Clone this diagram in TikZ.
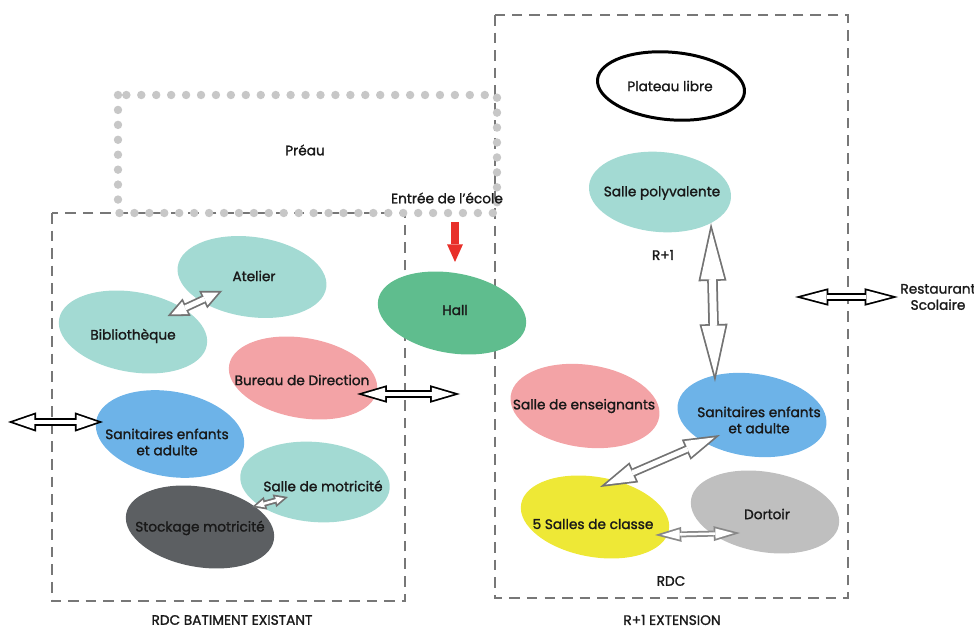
\documentclass[tikz,border=0pt]{standalone}
\usepackage{fontspec}
\setmainfont{Poppins}[FakeBold=1.4]
\usetikzlibrary{calc,shapes.geometric,arrows.meta}

\definecolor{sage}{HTML}{A3DAD3}
\definecolor{hallgreen}{HTML}{5FBD8E}
\definecolor{rose}{HTML}{F3A3A6}
\definecolor{sky}{HTML}{6DB3E8}
\definecolor{slate}{HTML}{5C5F62}
\definecolor{lemon}{HTML}{EEE836}
\definecolor{ash}{HTML}{BFBFBF}
\definecolor{wallgrey}{HTML}{777777}
\definecolor{arrowgrey}{HTML}{737373}
\definecolor{signred}{HTML}{E8302A}

% hollow double arrow: colour, shaft, head length, head width, from, to
\newcommand\dblarrow[6]{%
  \pgfmathsetmacro\dbC{sqrt(#3*#3+#4*#4/4)}%
  \pgfmathsetmacro\dbR{#4*#3/(#4+2*\dbC)}%
  \pgfmathsetmacro\dbK{(\dbR-1)/\dbR}%
  \pgfmathsetmacro\dbS{(1-\dbK)*(#3-\dbR)}%
  \pgfmathsetmacro\dbL{\dbK*#3}%
  \pgfmathsetmacro\dbW{\dbK*#4}%
  \draw[#1, line width=#2pt, {Triangle[length=#3pt,width=#4pt,line width=0pt]}-{Triangle[length=#3pt,width=#4pt,line width=0pt]}] #5 -- #6;
  \draw[white, line width=#2pt-2pt, shorten <=\dbS pt, shorten >=\dbS pt, {Triangle[length=\dbL pt,width=\dbW pt,line width=0pt]}-{Triangle[length=\dbL pt,width=\dbW pt,line width=0pt]}] #5 -- #6;
}

\tikzset{
  room/.style={ellipse, minimum width=3cm, minimum height=1.6cm, inner sep=0pt},
  label/.style={font=\fontsize{7.8}{9.2}\selectfont, align=center, text=black!90},
  wall/.style={draw=wallgrey, line width=1.4pt, dash pattern=on 6pt off 4pt},
  entry/.style={signred, line width=4pt, -{Triangle[length=10pt,width=9pt,line width=0pt]}},
}

\begin{document}
\begin{tikzpicture}[x=0.02cm,y=-0.02cm]
	\useasboundingbox (0,0) rectangle (974,628);
	
	%%%%% WALLS %%%%%
	\draw[wall] (52,213) rectangle (405,601);
	\draw[wall] (495,15) rectangle (848,598);
	\draw[black!22, line width=4.8pt, line cap=round, dash pattern=on 0pt off 8.5pt] (118,95) rectangle (497,213);
	
	%%%%% EXISTING BUILDING %%%%%
	\node[room, rotate=-8, fill=sage] (atelier) at (252,277) {};
	\node[room, rotate=-10, fill=sage] (biblio) at (133,332) {};
	\node[room, rotate=-10, fill=hallgreen] (hall) at (452,313) {};
	\node[room, rotate=-10, fill=rose] (bureau) at (303,378) {};
	\node[room, rotate=-10, fill=sky, minimum height=1.7cm] (sanL) at (170,434) {};
	\node[room, rotate=-5, fill=sage] (motricite) at (315,482) {};
	\node[room, rotate=-10, fill=slate] (stockage) at (200,527) {};
	
	%%%%% EXTENSION %%%%%
	\node[room, rotate=-5, draw=black, line width=1.7pt, fill=white, minimum width=2.95cm, minimum height=1.35cm] (plateau) at (671,86) {};
	\node[room, rotate=-5, fill=sage, minimum width=2.85cm] (polyv) at (660,192) {};
	\node[room, rotate=-8, fill=rose, minimum height=1.65cm] (profs) at (585,406) {};
	\node[room, rotate=-8, fill=sky, minimum height=1.65cm] (sanR) at (752,415) {};
	\node[room, rotate=-10, fill=lemon] (classes) at (595,517) {};
	\node[room, rotate=-10, fill=ash] (dortoir) at (765,512) {};
	
	%%%%% ROOM NAMES %%%%%
	\node[label] (atelier-t) at (254,276) {Atelier};
	\node[label] (biblio-t) at (133,336) {Bibliothèque};
	\node[label] (hall-t) at (455,310) {Hall};
	\node[label] (bureau-t) at (302,380) {Bureau de Direction};
	\node[label] (sanL-t) at (167,442) {Sanitaires enfants\\et adulte};
	\node[label] (motricite-t) at (323,486) {Salle de motricité};
	\node[label] (stockage-t) at (200,528) {Stockage motricité};
	\node[label] (plateau-t) at (670,86) {Plateau libre};
	\node[label] (polyv-t) at (662,193) {Salle polyvalente};
	\node[label] (profs-t) at (584,406) {Salle de enseignants};
	\node[label] (sanR-t) at (759,420) {Sanitaires enfants\\et adulte};
	\node[label] (classes-t) at (593,524) {5 Salles de classe};
	\node[label] (dortoir-t) at (767,514) {Dortoir};
	
	%%%%% OTHER TEXTS %%%%%
	\node[label] (preau) at (305,150) {Préau};
	\node[label] (entree) at (447,198) {Entrée de l’école};
	\node[label] (etage) at (663,255) {R+1};
	\node[label] (rdc) at (671,581) {RDC};
	\node[label] (existant) at (232,620) {RDC BATIMENT EXISTANT};
	\node[label] (extension) at (672,620) {R+1 EXTENSION};
	\node[label] (resto) at (938,297) {Restaurant\\Scolaire};
	
	%%%%% LINKS %%%%%
	\coordinate (door) at (455,222);
	\draw[entry] (door) -- ++(0,40);
	
	\coordinate (west) at (8,422);
	\coordinate (courtyard) at (460,394);
	\coordinate (east) at (795,297);
	
	\dblarrow{black}{4.2}{16}{11}{(west)}{($(sanL)+(-67,-12)$)}
	\dblarrow{black}{4.2}{17}{10}{($(bureau)+(54,16)$)}{(courtyard)}
	\dblarrow{black}{4.2}{19}{10}{(east)}{(898,297)}
	\dblarrow{arrowgrey}{4.8}{12}{11}{($(biblio)!0.29!(atelier)$)}{($(biblio)!0.75!(atelier)$)}
	\dblarrow{arrowgrey}{3.4}{8}{7.5}{($(stockage)+(52,-20)$)}{($(motricite)+(-27,15)$)}
	\dblarrow{arrowgrey}{6}{33}{16}{($(polyv)+(51,31)$)}{($(sanR)+(-37,-33)$)}
	\dblarrow{arrowgrey}{4.8}{21}{12.5}{($(classes)+(5,-30)$)}{($(sanR)+(-32,20)$)}
	\dblarrow{arrowgrey!85}{3.4}{15}{8.5}{($(classes)+(60,18)$)}{($(dortoir)+(-25,21)$)}
	
\end{tikzpicture}
\end{document}
